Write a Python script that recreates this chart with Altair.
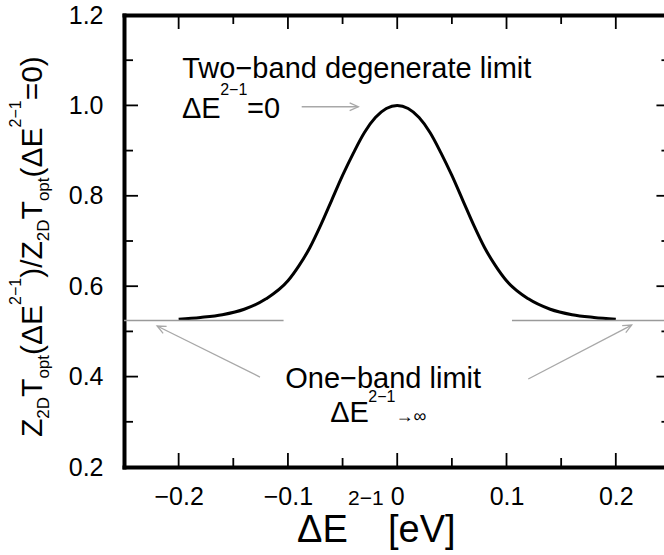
import math
import altair as alt
import pandas as pd

# ---------------- values ----------------
delta_e = [-0.20, -0.18, -0.16, -0.14, -0.12, -0.10, -0.09, -0.08, -0.07, -0.06,
           -0.05, -0.04, -0.03, -0.02, -0.01, 0.00, 0.01, 0.02, 0.03, 0.04,
           0.05, 0.06, 0.07, 0.08, 0.09, 0.10, 0.12, 0.14, 0.16, 0.18, 0.20]
ratio = [0.527, 0.531, 0.537, 0.549, 0.572, 0.612, 0.645, 0.685, 0.735, 0.790,
         0.845, 0.895, 0.940, 0.973, 0.993, 1.000, 0.993, 0.973, 0.940, 0.895,
         0.845, 0.790, 0.735, 0.685, 0.645, 0.612, 0.572, 0.549, 0.537, 0.531, 0.527]

one_band_level = 0.524
limit_seg = ["left", "left", "right", "right"]
limit_x = [-0.25, -0.104, 0.105, 0.25]

x_major = [-0.2, -0.1, 0.0, 0.1, 0.2]
x_minor = [-0.15, -0.05, 0.05, 0.15]
y_major = [0.2, 0.4, 0.6, 0.8, 1.0, 1.2]
y_minor = [0.3, 0.5, 0.7, 0.9, 1.1]

arrow_id = ["a1", "a1", "a2", "a2", "a3", "a3"]
arrow_x = [-0.0874, -0.0356, -0.1256, -0.2197, 0.1199, 0.2145]
arrow_y = [0.997, 0.997, 0.399, 0.512, 0.3947, 0.514]

# annotation texts (data coordinates of the text start, on the baseline)
ann_text = ["Two\u2212band degenerate limit", "\u0394E", "=0", "One\u2212band limit", "\u0394E"]
ann_x = [-0.1967, -0.197, -0.1375, -0.1025, -0.0613]
ann_y = [1.0606, 0.9715, 0.9715, 0.3748, 0.3002]
sup_text = ["2\u22121", "2\u22121", "\u2192\u221e"]
sup_x = [-0.162, -0.0265, -0.0015]
sup_y = [1.023, 0.3430, 0.2996]
sup_size = [16, 16, 18]

# ---------------- layout ----------------
FONT = "Liberation Sans"
W, H = 540, 452
PAD_L, PAD_T = 124, 15
X_DOM = [-0.25, 0.2441]
Y_DOM = [0.2, 1.2]
X_FRAME_RIGHT = 0.25          # right frame lies just outside the picture
xs = alt.Scale(domain=X_DOM, nice=False, zero=False)
ys = alt.Scale(domain=Y_DOM, nice=False, zero=False)
px_per_x = W / (X_DOM[1] - X_DOM[0])
px_per_y = H / (Y_DOM[1] - Y_DOM[0])

MAJ, MIN = 14, 9   # inward tick lengths in pixels

frame = dict(domain=True, domainWidth=4, domainColor="black", domainCap="square",
             grid=False, title=None)

x_main = alt.Axis(orient="bottom", values=x_major, ticks=False, tickSize=0,
                  labelExpr="datum.value == 0 ? '0' : format(datum.value, '.1f')",
                  labelFont=FONT, labelFontSize=25, labelColor="black",
                  labelPadding=17, **frame)
y_main = alt.Axis(orient="left", values=y_major, ticks=False, tickSize=0,
                  format=".1f", labelFont=FONT, labelFontSize=25, labelColor="black",
                  labelPadding=21, **frame)
x_top = alt.Axis(orient="top", ticks=False, tickSize=0, labels=False, **frame)

# ---------------- data frames ----------------
curve_df = pd.DataFrame({"x": delta_e, "y": ratio})
limit_df = pd.DataFrame({"x": limit_x, "seg": limit_seg,
                         "y": [one_band_level] * len(limit_x)})
arrow_df = pd.DataFrame({"x": arrow_x, "y": arrow_y, "id": arrow_id})

heads = []
for i in range(0, len(arrow_x), 2):
    dx = (arrow_x[i + 1] - arrow_x[i]) * px_per_x
    dy = -(arrow_y[i + 1] - arrow_y[i]) * px_per_y
    ang = math.degrees(math.atan2(dy, dx)) % 360
    heads.append({"x": arrow_x[i + 1], "y": arrow_y[i + 1], "ang": ang})
head_df = pd.DataFrame(heads)

ann_df = pd.DataFrame({"x": ann_x, "y": ann_y, "t": ann_text})
sup_df = pd.DataFrame({"x": sup_x, "y": sup_y, "t": sup_text, "fs": sup_size})

# inward frame ticks: positions from the tick lists, lengths from pixels
tick_rows = []
for values, length in ((x_major, MAJ), (x_minor, MIN)):
    dy = length / px_per_y
    for v in values:
        tick_rows.append({"x0": v, "x1": v, "y0": Y_DOM[0], "y1": Y_DOM[0] + dy})
        tick_rows.append({"x0": v, "x1": v, "y0": Y_DOM[1], "y1": Y_DOM[1] - dy})
for values, length in ((y_major, MAJ), (y_minor, MIN)):
    dx = length / px_per_x
    for v in values:
        tick_rows.append({"x0": X_DOM[0], "x1": X_DOM[0] + dx, "y0": v, "y1": v})
        tick_rows.append({"x0": X_FRAME_RIGHT - dx, "x1": X_FRAME_RIGHT, "y0": v, "y1": v})
tick_df = pd.DataFrame(tick_rows)

# x-axis title pieces (pixels relative to plot origin)
xt_df = pd.DataFrame({
    "px": [173, 224, 264],
    "py": [527, 490, 527],
    "t": ["\u0394E", "2\u22121", "[eV]"],
    "fs": [38, 21, 38],
})

# y-axis title pieces, rotated, laid out bottom to top
widths = {"Z": .611, "T": .611, "2": .556, "D": .722, "o": .556, "p": .556,
          "t": .278, "(": .333, ")": .333, "\u0394": .667, "E": .667,
          "\u2212": .584, "1": .556, "/": .278, "=": .584, "0": .556}
pieces = [("Z", "main"), ("2D", "sub"), ("T", "main"), ("opt", "sub"),
          ("(\u0394E", "main"), ("2\u22121", "sup"), (")/Z", "main"),
          ("2D", "sub"), ("T", "main"), ("opt", "sub"), ("(\u0394E", "main"),
          ("2\u22121", "sup"), ("=0)", "main")]
sizes = {"main": 30, "sub": 17, "sup": 16}
base_x = {"main": -82, "sub": -75, "sup": -103}
rows = []
cur = 437 - PAD_T
for txt, kind in pieces:
    rows.append({"px": base_x[kind], "py": cur, "t": txt, "fs": sizes[kind]})
    cur -= sum(widths[c] for c in txt) * sizes[kind]
yt_df = pd.DataFrame(rows)

# ---------------- layers ----------------
curve = alt.Chart(curve_df).mark_line(color="black", strokeWidth=3,
                                      interpolate="monotone").encode(
    x=alt.X("x:Q", scale=xs, axis=x_main),
    y=alt.Y("y:Q", scale=ys, axis=y_main),
)

limits = alt.Chart(limit_df).mark_line(color="#9a9a9a", strokeWidth=1.5,
                                       clip=True).encode(
    x=alt.X("x:Q", scale=xs, axis=x_top),
    y=alt.Y("y:Q", scale=ys, axis=None),
    detail="seg:N",
)

ticks = alt.Chart(tick_df).mark_rule(color="black", strokeWidth=1.8).encode(
    x=alt.X("x0:Q", scale=xs, axis=None),
    x2="x1:Q",
    y=alt.Y("y0:Q", scale=ys, axis=None),
    y2="y1:Q",
)

arrows = alt.Chart(arrow_df).mark_line(color="#a8a8a8", strokeWidth=1.3).encode(
    x=alt.X("x:Q", scale=xs, axis=None),
    y=alt.Y("y:Q", scale=ys, axis=None),
    detail="id:N",
)

arrowheads = alt.Chart(head_df).mark_point(
    shape="M-1,-0.45L0,0L-1,0.45", filled=False, color="#a8a8a8",
    strokeWidth=1.3, size=300, opacity=1).encode(
    x=alt.X("x:Q", scale=xs, axis=None),
    y=alt.Y("y:Q", scale=ys, axis=None),
    angle=alt.Angle("ang:Q", scale=None),
)

annotations = alt.Chart(ann_df).mark_text(
    font=FONT, fontSize=29, color="black", align="left", baseline="alphabetic").encode(
    x=alt.X("x:Q", scale=xs, axis=None),
    y=alt.Y("y:Q", scale=ys, axis=None),
    text="t:N",
)

supers = alt.Chart(sup_df).mark_text(
    font=FONT, color="black", align="left", baseline="alphabetic").encode(
    x=alt.X("x:Q", scale=xs, axis=None),
    y=alt.Y("y:Q", scale=ys, axis=None),
    text="t:N",
    size=alt.Size("fs:Q", scale=None),
)

x_title = alt.Chart(xt_df).mark_text(
    font=FONT, color="black", align="left", baseline="alphabetic").encode(
    x=alt.X("px:Q", scale=None, axis=None),
    y=alt.Y("py:Q", scale=None, axis=None),
    text="t:N",
    size=alt.Size("fs:Q", scale=None),
)

y_title = alt.Chart(yt_df).mark_text(
    font=FONT, color="black", align="left", baseline="alphabetic", angle=270).encode(
    x=alt.X("px:Q", scale=None, axis=None),
    y=alt.Y("py:Q", scale=None, axis=None),
    text="t:N",
    size=alt.Size("fs:Q", scale=None),
)

chart = alt.layer(
    curve, limits, ticks, arrows, arrowheads,
    annotations, supers, x_title, y_title
).resolve_axis(
    x="independent", y="independent"
).properties(
    width=W, height=H,
    padding={"left": PAD_L, "top": PAD_T, "right": 664 - PAD_L - W,
             "bottom": 555 - PAD_T - H},
    autosize=alt.AutoSizeParams(type="none"),
    background="white",
).configure_view(stroke=None)

chart.save("out.html", embed_options={"renderer": "svg", "actions": False})
